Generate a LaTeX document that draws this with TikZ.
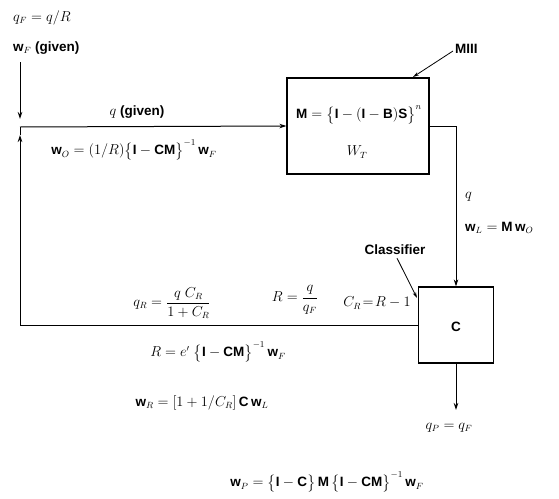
\documentclass[tikz,border=0pt]{standalone}
\usepackage{amsmath}
\usepackage{fontspec}
\setmainfont{Liberation Sans}
\usepackage{tikz}
\usetikzlibrary{arrows.meta, positioning, calc}

\begin{document}
\begin{tikzpicture}[
      x=1pt, y=-1pt,
      box/.style={draw, line width=1.2pt, minimum width=#1, inner sep=0pt},
      arr/.style={-{Stealth[length=7pt, width=4.5pt]}, line width=1pt},
      lead/.style={-{Stealth[length=6pt, width=3.5pt]}, line width=0.8pt},
      lbl/.style={font=\fontsize{13.5}{16}\selectfont\bfseries, inner sep=1pt}
  ]
    \useasboundingbox (0,0) rectangle (559,498);

    % the two units
    \node[box=142pt, minimum height=96pt] (mill) at (358,126) {};
    \node[box=75pt,  minimum height=76pt] (cls)  at (456,325) {};

    \node[lbl] (mtxt) at (359,115) {$\mathbf{M}=\bigl\{\mathbf{I}-(\mathbf{I}-\mathbf{B})\mathbf{S}\bigr\}^{n}$};
    \node[lbl] (wt)   at (357,152) {$W_T$};
    \node[lbl] (ctxt) at ([yshift=-2pt]cls.center) {$\mathbf{C}$};

    % feed, junction and product points
    \coordinate (feed) at (20,62);
    \coordinate (jn)   at (20,127);
    \coordinate (prod) at (456,410);

    \draw[arr] (feed) -- ($(jn)+(0,-8)$);
    \draw[arr] (jn) -- (mill.west);
    \draw[arr] (mill.east) -| (cls.north);
    \draw[arr] (cls.west) -| ($(jn)+(0,8)$);
    \draw (jn) -- ++(0,8);
    \draw[arr] (cls.south) -- (prod);

    % unit names
    \node[lbl, anchor=west] (mname) at (454,49) {MIII};
    \draw[lead] (mname.west) ++(-1,2) -- (413,77);
    \node[lbl] (cname) at (395,250) {Classifier};
    \draw[lead] (cname.south) ++(2,2) -- (417,298);

    % stream labels
    \node[lbl, anchor=west] (qf)  at (12,18) {$q_F = q/R$};
    \node[lbl, anchor=west] (wf)  at (12,48) {$\mathbf{w}_F$ (given)};
    \node[lbl] (qg)  at (137,112) {$q$ (given)};
    \node[lbl] (wo)  at (134,150) {$\mathbf{w}_O = (1/R)\bigl\{\mathbf{I}-\mathbf{CM}\bigr\}^{-1}\,\mathbf{w}_F$};
    \node[lbl, anchor=west] (ql)  at (464,197) {$q$};
    \node[lbl, anchor=west] (wl)  at (464,228) {$\mathbf{w}_L = \mathbf{M}\,\mathbf{w}_O$};
    \node[lbl] (cr)  at (377,303) {$C_R\!=\!R-1$};
    \node[lbl] (qr)  at (172,303) {$q_R = \dfrac{q\;C_R}{1+C_R}$};
    \node[lbl] (rr)  at (295,300) {$R = \dfrac{q}{q_F}$};
    \node[lbl] (re)  at (218,352) {$R = e'\;\bigl\{\mathbf{I}-\mathbf{CM}\bigr\}^{-1}\,\mathbf{w}_F$};
    \node[lbl] (wr)  at (202,403) {$\mathbf{w}_R = [1+1/C_R]\,\mathbf{C}\,\mathbf{w}_L$};
    \node[lbl] (qp)  at (449,428) {$q_P = q_F$};
    \node[lbl] (wp)  at (327,482) {$\mathbf{w}_P = \bigl\{\mathbf{I}-\mathbf{C}\bigr\}\,\mathbf{M}\,\bigl\{\mathbf{I}-\mathbf{CM}\bigr\}^{-1}\,\mathbf{w}_F$};
\end{tikzpicture}
\end{document}
